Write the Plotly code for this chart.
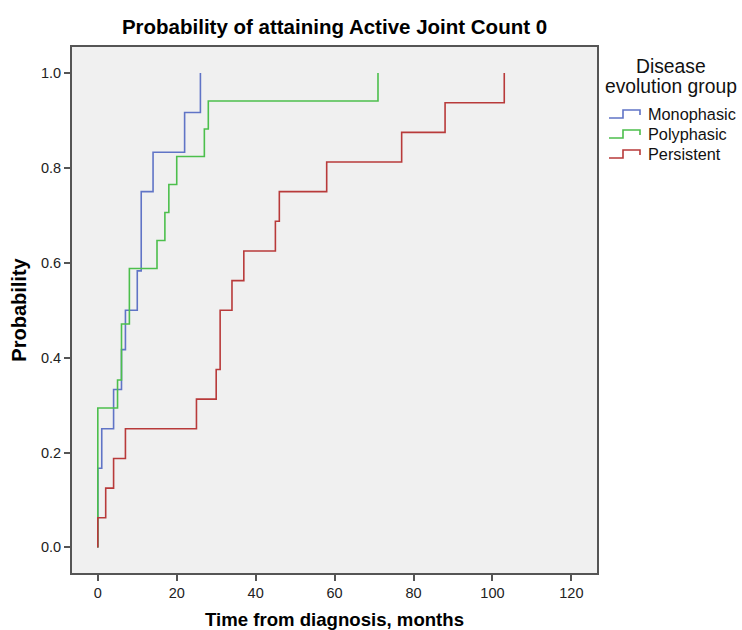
import plotly.graph_objects as go

# Cumulative probability of attaining Active Joint Count 0 (step curves)
mono_t = [0, 0, 1, 4, 6, 7, 10, 11, 14, 22, 26]
mono_p = [0.0, 0.167, 0.25, 0.333, 0.417, 0.5, 0.583, 0.75, 0.833, 0.917, 1.0]

poly_t = [0, 0, 5, 6, 8, 15, 17, 18, 20, 27, 28, 71]
poly_p = [0.0, 0.294, 0.353, 0.471, 0.588, 0.647, 0.706, 0.765, 0.824, 0.882, 0.941, 1.0]

pers_t = [0, 0, 2, 4, 7, 25, 30, 31, 34, 37, 45, 46, 58, 77, 88, 103]
pers_p = [0.0, 0.0625, 0.125, 0.1875, 0.25, 0.3125, 0.375, 0.5, 0.5625, 0.625,
          0.6875, 0.75, 0.8125, 0.875, 0.9375, 1.0]

series_names = ["Monophasic", "Polyphasic", "Persistent"]
series_colors = ["#6074c6", "#4cbf4c", "#b83a3a"]

x_ticks = [0, 20, 40, 60, 80, 100, 120]
y_ticks = [0.0, 0.2, 0.4, 0.6, 0.8, 1.0]
y_ticklabels = ["0.0", "0.2", "0.4", "0.6", "0.8", "1.0"]

FONT = "Liberation Sans, Arial, sans-serif"
W, H = 742, 630
ML, MR, MT, MB = 72, 145, 47, 57

fig = go.Figure()
for name, color, t, p in zip(series_names, series_colors,
                             [mono_t, poly_t, pers_t], [mono_p, poly_p, pers_p]):
    fig.add_trace(go.Scatter(
        x=t, y=p, mode="lines", name=name, showlegend=False,
        line=dict(color=color, width=1.6, shape="hv"),
    ))

axis_common = dict(
    showline=True, linecolor="#555555", linewidth=2, mirror=True,
    ticks="outside", ticklen=6, tickwidth=1.5, tickcolor="#555555",
    showgrid=False, zeroline=False, automargin=False,
    tickfont=dict(family=FONT, size=14.5, color="#222222"),
)

# Legend (SPSS style): centred two-line title and step-shaped keys
plot_w = W - ML - MR
plot_h = H - MT - MB


def px_to_paper(xp, yp):
    return (xp - ML) / plot_w, (H - MB - yp) / plot_h


annotations = []
shapes = []
for text, yp in [("Disease", 66), ("evolution group", 86)]:
    ax, ay = px_to_paper(671, yp)
    annotations.append(dict(text=text, x=ax, y=ay, xref="paper", yref="paper",
                            xanchor="center", yanchor="middle", showarrow=False,
                            font=dict(family=FONT, size=19.3, color="#111111")))
for i, (name, color) in enumerate(zip(series_names, series_colors)):
    yc = 114 + 20 * i
    tx, ty = px_to_paper(646, yc)
    annotations.append(dict(text=name, x=tx, y=ty, xref="paper", yref="paper",
                            xanchor="left", yanchor="middle", showarrow=False,
                            font=dict(family=FONT, size=16.3, color="#111111")))
    pts = [(609, yc + 4), (623, yc + 4), (623, yc - 4), (640, yc - 4), (640, yc + 1)]
    pp = [px_to_paper(a, b) for a, b in pts]
    path = "M " + " L ".join(f"{a:.5f},{b:.5f}" for a, b in pp)
    shapes.append(dict(type="path", path=path, xref="paper", yref="paper",
                       line=dict(color=color, width=1.6)))

fig.update_layout(
    width=W, height=H,
    paper_bgcolor="white", plot_bgcolor="#f0f0f0",
    margin=dict(l=ML, r=MR, t=MT, b=MB, autoexpand=False),
    title=dict(text="<b>Probability of attaining Active Joint Count 0</b>",
               x=334.5 / W, xanchor="center", yref="container",
               y=1 - 27 / H, yanchor="middle",
               font=dict(family=FONT, size=20.5, color="black")),
    xaxis=dict(range=[-6.54, 126.5], tickvals=x_ticks,
               title=dict(text="<b>Time from diagnosis, months</b>", standoff=16,
                          font=dict(family=FONT, size=18.6, color="black")),
               **axis_common),
    yaxis=dict(range=[-0.054, 1.055], tickvals=y_ticks, ticktext=y_ticklabels,
               title=dict(text="<b>Probability</b>", standoff=9,
                          font=dict(family=FONT, size=20, color="black")),
               **axis_common),
    annotations=annotations,
    shapes=shapes,
    showlegend=False,
)

fig.write_html("out.html",
               config={"displayModeBar": False},
               post_script="document.body.style.margin='0px';"
                           "document.body.style.overflow='hidden';")
